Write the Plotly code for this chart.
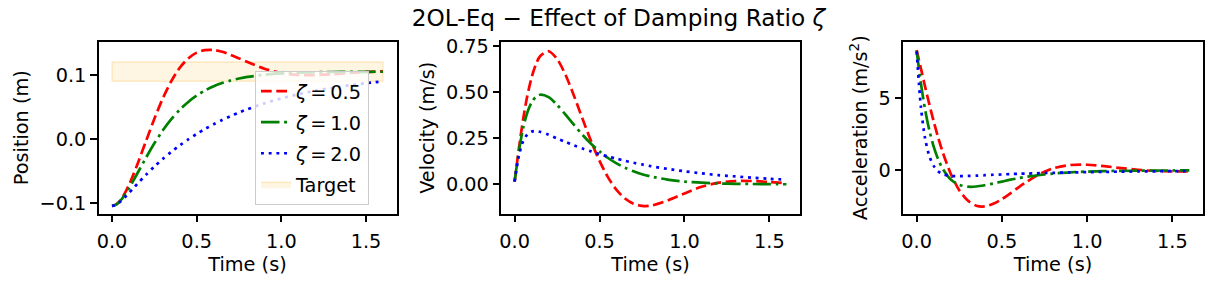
import plotly.graph_objects as go

# ---------------- data ----------------
t = [0, 0.025, 0.05, 0.075, 0.1, 0.125, 0.15, 0.2, 0.25, 0.3, 0.35, 0.4, 0.45, 0.5,
     0.55, 0.6, 0.65, 0.7, 0.75, 0.8, 0.9, 1.0, 1.1, 1.2, 1.3, 1.4, 1.5, 1.6]

zeta_labels = ["0.5", "1.0", "2.0"]

pos_z05 = [-0.105, -0.1025, -0.0957, -0.0852, -0.0719, -0.0565, -0.0397, -0.0039, 0.0314,
           0.0634, 0.0902, 0.1111, 0.1257, 0.1348, 0.1387, 0.1389, 0.1361, 0.1314, 0.1258,
           0.1200, 0.1096, 0.1028, 0.0998, 0.0997, 0.1011, 0.1030, 0.1046, 0.1055]
pos_z10 = [-0.105, -0.1026, -0.0965, -0.0878, -0.0773, -0.0658, -0.0538, -0.0297, -0.0069,
           0.0133, 0.0308, 0.0455, 0.0577, 0.0677, 0.0757, 0.0821, 0.0872, 0.0912, 0.0943,
           0.0968, 0.1002, 0.1022, 0.1034, 0.1041, 0.1045, 0.1047, 0.1048, 0.1049]
pos_z20 = [-0.105, -0.1029, -0.0979, -0.0916, -0.0846, -0.0774, -0.0702, -0.0563, -0.0433,
           -0.0313, -0.0203, -0.0102, -0.0009, 0.0077, 0.0156, 0.0228, 0.0295, 0.0356, 0.0412,
           0.0463, 0.0555, 0.0632, 0.0697, 0.0752, 0.0798, 0.0837, 0.0870, 0.0898]

vel_z05 = [0.015, 0.192, 0.352, 0.480, 0.579, 0.650, 0.695, 0.722, 0.680, 0.593, 0.479, 0.355,
           0.235, 0.127, 0.038, -0.030, -0.077, -0.105, -0.117, -0.116, -0.088, -0.049, -0.013,
           0.009, 0.018, 0.018, 0.013, 0.006]
vel_z10 = [0.015, 0.178, 0.304, 0.390, 0.444, 0.474, 0.486, 0.473, 0.431, 0.378, 0.322, 0.268,
           0.220, 0.179, 0.143, 0.114, 0.090, 0.071, 0.055, 0.043, 0.026, 0.015, 0.009, 0.005,
           0.003, 0.002, 0.001, 0.0005]
vel_z20 = [0.015, 0.154, 0.233, 0.271, 0.286, 0.289, 0.285, 0.269, 0.249, 0.230, 0.211, 0.194,
           0.179, 0.164, 0.151, 0.139, 0.128, 0.117, 0.108, 0.099, 0.084, 0.071, 0.060, 0.050,
           0.043, 0.036, 0.030, 0.026]

acc_z05 = [8.3, 7.03, 5.75, 4.53, 3.38, 2.32, 1.36, -0.23, -1.37, -2.08, -2.43, -2.48, -2.30,
           -1.98, -1.58, -1.15, -0.75, -0.39, -0.09, 0.14, 0.37, 0.39, 0.29, 0.16, 0.04, -0.04,
           -0.06, -0.06]
acc_z10 = [8.25, 6.00, 4.17, 2.74, 1.64, 0.81, 0.18, -0.62, -0.99, -1.12, -1.11, -1.02, -0.90,
           -0.77, -0.64, -0.53, -0.43, -0.35, -0.28, -0.22, -0.13, -0.08, -0.05, -0.03, -0.02,
           -0.01, -0.005, -0.003]
acc_z20 = [8.2, 4.37, 2.18, 0.97, 0.31, -0.05, -0.24, -0.38, -0.40, -0.38, -0.36, -0.33, -0.30,
           -0.28, -0.25, -0.23, -0.22, -0.20, -0.18, -0.17, -0.14, -0.12, -0.10, -0.085, -0.072,
           -0.061, -0.051, -0.043]

target_low = 0.09
target_high = 0.12
target_t = [0, 1.6]

x_ticks = [0.0, 0.5, 1.0, 1.5]
pos_ticks = [-0.1, 0.0, 0.1]
vel_ticks = [0.0, 0.25, 0.5, 0.75]
acc_ticks = [0, 5]

# ---------------- styling ----------------
W, H = 1227, 286


def px(xw):
    return xw / W


def py(yw):
    return 1 - yw / H


FONT = "DejaVu Sans"
FS = 19.3
colors = ["#ff0000", "#008000", "#0000ff"]
dashes = ["10.7px,4.6px", "18.5px,4.6px,2.9px,4.6px", "2.9px,4.8px"]
LW = 2.7

fig = go.Figure()

# target band (drawn first so it sits beneath the lines)
fig.add_trace(go.Scatter(
    x=[target_t[0], target_t[1], target_t[1], target_t[0], target_t[0]],
    y=[target_low, target_low, target_high, target_high, target_low],
    fill="toself", fillcolor="rgba(255,165,0,0.11)",
    line=dict(color="rgba(255,165,0,0.2)", width=1.5),
    mode="lines", name="Target", legendgroup="target", legendrank=10,
    xaxis="x", yaxis="y", hoverinfo="skip"))

series = [
    (pos_z05, vel_z05, acc_z05),
    (pos_z10, vel_z10, acc_z10),
    (pos_z20, vel_z20, acc_z20),
]
for i, (p, v, a) in enumerate(series):
    for j, (vals, ax) in enumerate([(p, "1"), (v, "2"), (a, "3")]):
        fig.add_trace(go.Scatter(
            x=t, y=vals, mode="lines",
            line=dict(color=colors[i], width=LW, dash=dashes[i], shape="spline", smoothing=0.8),
            name="<i>ζ</i>\u2009=\u2009" + zeta_labels[i],
            legendgroup="z" + zeta_labels[i],
            legendrank=i + 1,
            showlegend=(j == 0),
            xaxis="x" if ax == "1" else "x" + ax,
            yaxis="y" if ax == "1" else "y" + ax,
        ))

domains_x = [(px(98.5), px(396.5)), (px(501), px(800)), (px(903), px(1203))]
dom_y = (py(213.5), py(42))

axis_common = dict(
    showline=True, linecolor="#000000", linewidth=1.5, mirror=True,
    ticks="outside", ticklen=6.5, tickwidth=1.5, tickcolor="#000000",
    showgrid=False, zeroline=False, automargin=False,
    tickfont=dict(family=FONT, size=FS, color="#000000"),
)

yinfo = [
    ("Position (m)", [-0.1167, 0.1514], pos_ticks, ".1f"),
    ("Velocity (m/s)", [-0.158, 0.772], vel_ticks, ".2f"),
    ("Acceleration (m/s<sup>2</sup>)", [-2.97, 8.85], acc_ticks, "d"),
]

layout = dict(
    width=W, height=H,
    margin=dict(l=0, r=0, t=0, b=0),
    paper_bgcolor="white", plot_bgcolor="white",
    font=dict(family=FONT, size=FS, color="#000000"),
    title=dict(text="2OL-Eq − Effect of Damping Ratio <i>ζ</i>",
               x=px(618.5), xanchor="center", xref="paper",
               y=py(18), yanchor="middle", yref="container",
               font=dict(family=FONT, size=23.2, color="#000000")),
    legend=dict(x=px(255), y=py(71), xanchor="left", yanchor="top",
                bgcolor="rgba(255,255,255,0.8)", bordercolor="#cccccc", borderwidth=1,
                font=dict(family=FONT, size=FS, color="#000000"),
                tracegroupgap=3, itemwidth=30),
    showlegend=True,
)

for k in range(3):
    xname = "xaxis" if k == 0 else "xaxis%d" % (k + 1)
    yname = "yaxis" if k == 0 else "yaxis%d" % (k + 1)
    anchor_x = "y" if k == 0 else "y%d" % (k + 1)
    anchor_y = "x" if k == 0 else "x%d" % (k + 1)
    layout[xname] = dict(
        domain=list(domains_x[k]), anchor=anchor_x, range=[-0.08, 1.68],
        tickvals=x_ticks, tickformat=".1f", ticklabelstandoff=3,
        title=dict(text="Time (s)", font=dict(family=FONT, size=FS, color="#000000"), standoff=0),
        **axis_common)
    title, rng, tv, fmt = yinfo[k]
    layout[yname] = dict(
        domain=list(dom_y), anchor=anchor_y, range=rng,
        tickvals=tv, tickformat=fmt,
        title=dict(text=title, font=dict(family=FONT, size=FS, color="#000000"), standoff=6),
        **axis_common)

fig.update_layout(**layout)
# remove the default 8px page margin so the figure fills the window exactly
fig.write_html("out.html",
               config={"displayModeBar": False},
               post_script="document.body.style.margin='0px';document.body.style.overflow='hidden';")
